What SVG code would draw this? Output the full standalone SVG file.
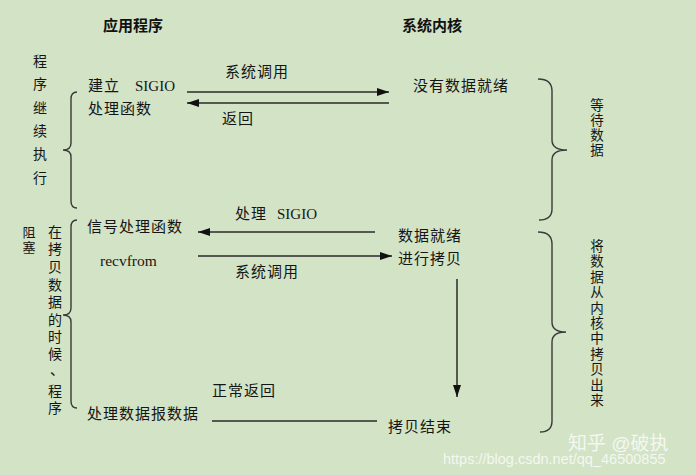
<svg xmlns="http://www.w3.org/2000/svg" width="696" height="475" viewBox="0 0 696 475">
  <style>
    .t { font-family: "Noto Sans CJK SC", "Liberation Sans", sans-serif; font-size: 15px; fill: #151515; letter-spacing: 1px; }
    .lat { font-family: "Liberation Serif", serif; letter-spacing: 0; }
    .h { font-family: "Noto Sans CJK SC", sans-serif; font-size: 15px; font-weight: bold; fill: #111; }
    .v { font-family: "Noto Sans CJK SC", sans-serif; font-size: 14px; fill: #151515; text-anchor: middle; }
    .vs { font-family: "Noto Sans CJK SC", sans-serif; font-size: 13px; fill: #151515; text-anchor: middle; }
    .vr { font-family: "Noto Sans CJK SC", sans-serif; font-size: 13.5px; fill: #151515; text-anchor: middle; }
    .ln { stroke: #2a2a2a; stroke-width: 1.5; fill: none; }
    .br { stroke: #3a3a3a; stroke-width: 1.4; fill: none; }
    .wm { font-family: "Liberation Sans", "Noto Sans CJK SC", sans-serif; fill: #ffffff; fill-opacity: 0.75; }
  </style>
  <defs>
    <marker id="ah" viewBox="0 0 12 8" refX="12" refY="4" markerWidth="12" markerHeight="8" markerUnits="userSpaceOnUse" orient="auto">
      <path d="M0,0 L12,4 L0,8 Z" fill="#111"/>
    </marker>
  </defs>

  <rect x="0" y="0" width="696" height="475" fill="#d3e3c6"/>

  <!-- column headings -->
  <g id="head-app"><text class="h" x="103" y="31">应用程序</text></g>
  <g id="head-kernel"><text class="h" x="402" y="31">系统内核</text></g>

  <!-- left side: process keeps running (one glyph per line) -->
  <g id="label-continue">
    <text class="v" x="40" y="66">程</text>
    <text class="v" x="40" y="89">序</text>
    <text class="v" x="40" y="113">继</text>
    <text class="v" x="40" y="136">续</text>
    <text class="v" x="40" y="159">执</text>
    <text class="v" x="40" y="183">行</text>
  </g>
  <g id="brace-continue">
    <path class="br" d="M77,92 Q71,92 71,99 L71,143 Q71,150 63,150 Q71,150 71,157 L71,201 Q71,208 77,208"/>
  </g>

  <!-- left side: blocked while copying -->
  <g id="label-blocked">
    <text class="vs" x="29" y="237">阻</text>
    <text class="vs" x="29" y="252">塞</text>
  </g>
  <g id="label-copying">
    <text class="v" x="55" y="237">在</text>
    <text class="v" x="55" y="254">拷</text>
    <text class="v" x="55" y="272">贝</text>
    <text class="v" x="55" y="290">数</text>
    <text class="v" x="55" y="307">据</text>
    <text class="v" x="55" y="325">的</text>
    <text class="v" x="55" y="342">时</text>
    <text class="v" x="55" y="359">候</text>
    <text class="v" x="57" y="375">、</text>
    <text class="v" x="55" y="396">程</text>
    <text class="v" x="55" y="413">序</text>
  </g>
  <g id="brace-copying">
    <path class="br" d="M77,220 Q71,220 71,227 L71,308 Q71,315 63,315 Q71,315 71,322 L71,401 Q71,408 77,408"/>
  </g>

  <!-- application steps -->
  <g id="app-setup">
    <text class="t" x="88" y="91">建立 <tspan class="lat" x="135">SIGIO</tspan></text>
    <text class="t" x="88" y="114">处理函数</text>
  </g>
  <g id="app-handler"><text class="t" x="87" y="232">信号处理函数</text></g>
  <g id="app-recvfrom"><text class="t lat" x="100" y="266" style="font-size:15.5px">recvfrom</text></g>
  <g id="app-process"><text class="t" x="87" y="419">处理数据报数据</text></g>

  <!-- kernel states -->
  <g id="k-nodata"><text class="t" x="413" y="91">没有数据就绪</text></g>
  <g id="k-ready">
    <text class="t" x="398" y="241">数据就绪</text>
    <text class="t" x="398" y="264">进行拷贝</text>
  </g>
  <g id="k-done"><text class="t" x="388" y="432">拷贝结束</text></g>

  <!-- right side braces and notes -->
  <g id="brace-wait">
    <path class="br" d="M538,79 Q552,79 552,91 L552,140 Q552,150 567,150 Q552,150 552,160 L552,209 Q552,220 539,220"/>
  </g>
  <g id="label-wait">
    <text class="vr" x="597" y="110">等</text>
    <text class="vr" x="597" y="125">待</text>
    <text class="vr" x="597" y="140">数</text>
    <text class="vr" x="597" y="155">据</text>
  </g>
  <g id="brace-copy">
    <path class="br" d="M538,232 Q552,232 552,244 L552,322 Q552,332 566,332 Q552,332 552,342 L552,421 Q552,432 540,432"/>
  </g>
  <g id="label-copy">
    <text class="vr" x="597" y="251">将</text>
    <text class="vr" x="597" y="266">数</text>
    <text class="vr" x="597" y="282">据</text>
    <text class="vr" x="597" y="297">从</text>
    <text class="vr" x="597" y="313">内</text>
    <text class="vr" x="597" y="328">核</text>
    <text class="vr" x="597" y="343">中</text>
    <text class="vr" x="597" y="359">拷</text>
    <text class="vr" x="597" y="374">贝</text>
    <text class="vr" x="597" y="390">出</text>
    <text class="vr" x="597" y="405">来</text>
  </g>

  <!-- connectors -->
  <g id="connectors">
    <line class="ln" x1="187" y1="92" x2="389" y2="92" marker-end="url(#ah)"/>
    <line class="ln" x1="389" y1="103" x2="187" y2="103" marker-end="url(#ah)"/>
    <line class="ln" x1="375" y1="232" x2="198" y2="232" marker-end="url(#ah)"/>
    <line class="ln" x1="198" y1="256" x2="392" y2="256" marker-end="url(#ah)"/>
    <line class="ln" x1="457" y1="279" x2="457" y2="397" marker-end="url(#ah)"/>
    <line class="ln" x1="212" y1="421" x2="377" y2="421"/>
  </g>

  <!-- connector labels -->
  <g id="edge-labels">
    <text class="t" x="225" y="77">系统调用</text>
    <text class="t" x="222" y="124">返回</text>
    <text class="t" x="235" y="219">处理 <tspan class="lat" x="277">SIGIO</tspan></text>
    <text class="t" x="235" y="277">系统调用</text>
    <text class="t" x="212" y="396">正常返回</text>
  </g>

  <!-- watermark -->
  <g id="watermark">
    <text class="wm" x="568" y="450" style="font-size:19px">知乎 @破执</text>
    <text class="wm" x="443" y="464" style="font-size:14.5px">https://blog.csdn.net/qq_46500855</text>
  </g>
</svg>
